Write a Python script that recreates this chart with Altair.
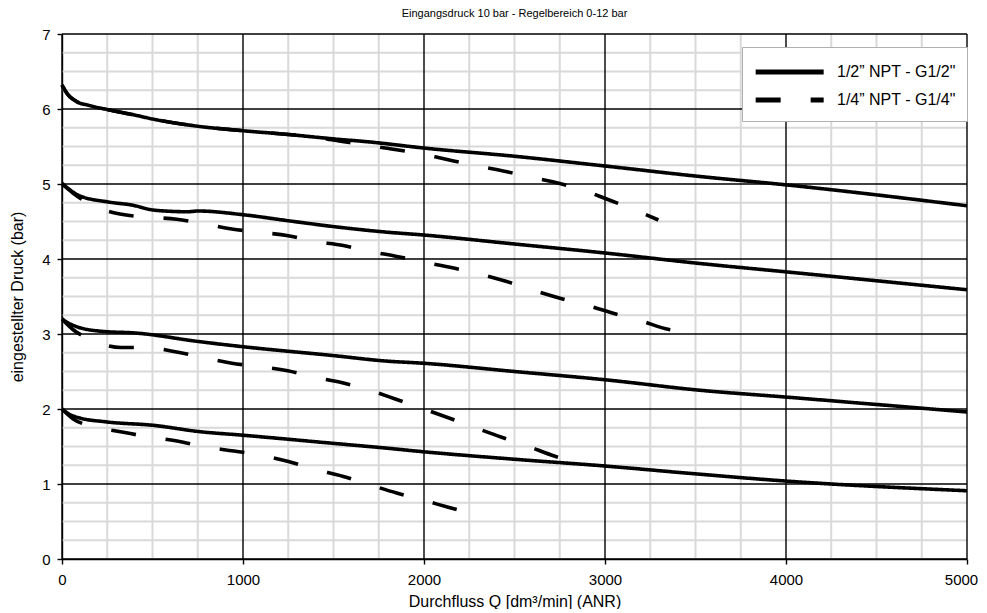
import altair as alt
import pandas as pd

LABEL_HALF = '1/2” NPT - G1/2"'
LABEL_QUARTER = '1/4” NPT - G1/4"'

# ---- curve data ----
a_x = [0, 30, 80, 145, 256, 400, 514, 751, 1002, 1250, 1508, 1702, 1997, 2500, 3000, 3525, 3995, 5000]
a_y = [6.32, 6.20, 6.10, 6.05, 5.99, 5.92, 5.86, 5.77, 5.71, 5.66, 5.60, 5.56, 5.48, 5.37, 5.24, 5.10, 4.99, 4.71]

b_x = [0, 40, 90, 256, 385, 514, 698, 751, 1002, 1250, 1508, 1785, 1997, 2500, 3000, 3525, 3995, 5000]
b_y = [5.01, 4.93, 4.85, 4.76, 4.72, 4.65, 4.63, 4.64, 4.59, 4.51, 4.43, 4.36, 4.32, 4.20, 4.08, 3.94, 3.83, 3.59]

c_x = [0, 60, 155, 320, 459, 634, 762, 938, 1076, 1250, 1380, 1554, 1683, 1858, 1997, 2162, 2291, 2457, 2595, 2761, 2890, 3055, 3193, 3354, 3420]
c_y = [5.00, 4.88, 4.73, 4.60, 4.56, 4.53, 4.48, 4.40, 4.36, 4.31, 4.24, 4.18, 4.11, 4.03, 3.96, 3.88, 3.81, 3.70, 3.59, 3.47, 3.39, 3.27, 3.18, 3.06, 3.04]

d_x = [0, 30, 80, 145, 256, 400, 514, 751, 1002, 1250, 1400, 1490, 1656, 1785, 1969, 2103, 2273, 2407, 2573, 2711, 2875, 3009, 3170, 3295]
d_y = [6.32, 6.20, 6.10, 6.05, 5.99, 5.92, 5.86, 5.77, 5.71, 5.66, 5.63, 5.59, 5.53, 5.48, 5.41, 5.34, 5.25, 5.19, 5.10, 5.03, 4.92, 4.80, 4.65, 4.52]

e_x = [0, 40, 90, 201, 422, 753, 1002, 1508, 1785, 1997, 2500, 3000, 3525, 3995, 5000]
e_y = [3.20, 3.14, 3.09, 3.04, 3.01, 2.90, 2.83, 2.71, 2.64, 2.61, 2.50, 2.39, 2.25, 2.16, 1.96]

f_x = [0, 60, 155, 326, 464, 634, 772, 938, 1076, 1247, 1383, 1549, 1687, 1845, 1987, 2138, 2273, 2433, 2567, 2724, 2853, 2890]
f_y = [3.20, 3.06, 2.93, 2.82, 2.82, 2.76, 2.69, 2.61, 2.57, 2.51, 2.43, 2.35, 2.26, 2.13, 2.01, 1.88, 1.76, 1.62, 1.51, 1.37, 1.28, 1.25]

g_x = [0, 40, 99, 238, 514, 753, 1002, 1508, 1785, 1997, 2500, 3000, 3525, 3995, 5000]
g_y = [2.00, 1.93, 1.88, 1.83, 1.78, 1.70, 1.65, 1.54, 1.48, 1.43, 1.33, 1.24, 1.13, 1.04, 0.91]

h_x = [0, 60, 164, 339, 473, 643, 777, 950, 1085, 1251, 1389, 1554, 1687, 1849, 1987, 2149, 2287]
h_y = [2.00, 1.87, 1.77, 1.69, 1.63, 1.57, 1.50, 1.44, 1.39, 1.30, 1.20, 1.10, 1.00, 0.88, 0.79, 0.68, 0.59]

curves = [
    ("A", LABEL_HALF, a_x, a_y),
    ("B", LABEL_HALF, b_x, b_y),
    ("E", LABEL_HALF, e_x, e_y),
    ("G", LABEL_HALF, g_x, g_y),
    ("C", LABEL_QUARTER, c_x, c_y),
    ("D", LABEL_QUARTER, d_x, d_y),
    ("F", LABEL_QUARTER, f_x, f_y),
    ("H", LABEL_QUARTER, h_x, h_y),
]

# axis ticks / grid values
x_major = [0, 1000, 2000, 3000, 4000, 5000]
y_major = [0, 1, 2, 3, 4, 5, 6, 7]
x_minor = [v for v in range(0, 5001, 250) if v % 1000 != 0]
y_minor = [i * 0.25 for i in range(29) if (i * 0.25) % 1 != 0]

rows = []
for cid, typ, xs, ys in curves:
    for i, (xv, yv) in enumerate(zip(xs, ys)):
        rows.append({"curve": cid, "typ": typ, "order": i, "q": xv, "p": yv})
df = pd.DataFrame(rows)

FONT = "Liberation Sans"
X_SCALE = alt.Scale(domain=[0, 5000], nice=False)
Y_SCALE = alt.Scale(domain=[0, 7], nice=False)

common = dict(
    grid=False,
    tickColor="#000000", tickWidth=1.4, tickSize=5,
    labelOverlap=False, labelFlush=False, labelFont=FONT, labelFontSize=15,
    labelColor="#000000",
    titleFont=FONT, titleFontSize=16, titleFontWeight="normal", titleColor="#000000",
    domainColor="#000000", domainWidth=1.4,
)

x_axis = alt.Axis(
    values=x_major, format="d", title="Durchfluss Q [dm³/min] (ANR)",
    labelOffset={"condition": {"test": "datum.value === 5000", "value": -6}, "value": 0},
    labelPadding=8, titlePadding=6,
    **common,
)
y_axis = alt.Axis(
    values=y_major, format="d", title="eingestellter Druck (bar)",
    labelPadding=7, titlePadding=16,
    **common,
)

legend = alt.Legend(
    title=None, orient="none", legendX=680, legendY=13,
    padding=11, fillColor="#ffffff", strokeColor="#b0b0b0",
    symbolType="M-1,0H5", symbolSize=514, symbolStrokeWidth=5,
    symbolStrokeColor="#000000",
    labelFont=FONT, labelFontSize=16, labelColor="#000000", labelOffset=56,
    rowPadding=4, zindex=2,
)

X_ENC = alt.X("q:Q", scale=X_SCALE, axis=x_axis)
Y_ENC = alt.Y("p:Q", scale=Y_SCALE, axis=y_axis)

minor_x_rules = alt.Chart(pd.DataFrame({"q": x_minor})).mark_rule(
    color="#d9d9d9", strokeWidth=2
).encode(x=X_ENC)

minor_y_rules = alt.Chart(pd.DataFrame({"p": y_minor})).mark_rule(
    color="#d9d9d9", strokeWidth=2
).encode(y=Y_ENC)

major_x_rules = alt.Chart(pd.DataFrame({"q": x_major})).mark_rule(
    color="#000000", strokeWidth=1.4
).encode(x=X_ENC)

major_y_rules = alt.Chart(pd.DataFrame({"p": y_major})).mark_rule(
    color="#000000", strokeWidth=1.4
).encode(y=Y_ENC)

lines = alt.Chart(df).mark_line(strokeWidth=3.6, color="#000000", interpolate="monotone").encode(
    x=X_ENC,
    y=Y_ENC,
    strokeDash=alt.StrokeDash(
        "typ:N",
        scale=alt.Scale(domain=[LABEL_HALF, LABEL_QUARTER], range=[[1, 0], [25, 30]]),
        legend=legend,
    ),
    detail="curve:N",
    order="order:Q",
)

chart = alt.layer(
    minor_x_rules, minor_y_rules, major_x_rules, major_y_rules, lines
).properties(
    width=905, height=525,
    autosize=alt.AutoSizeParams(type="none"),
    padding={"left": 54, "top": 26, "right": 12, "bottom": 50},
    title=alt.TitleParams(
        "Eingangsdruck 10 bar - Regelbereich 0-12 bar",
        font=FONT, fontSize=11, fontWeight="normal", color="#000000",
        anchor="middle", offset=8,
    ),
).configure_view(stroke=None)

chart.save("out.html", embed_options={"renderer": "svg", "actions": False})
